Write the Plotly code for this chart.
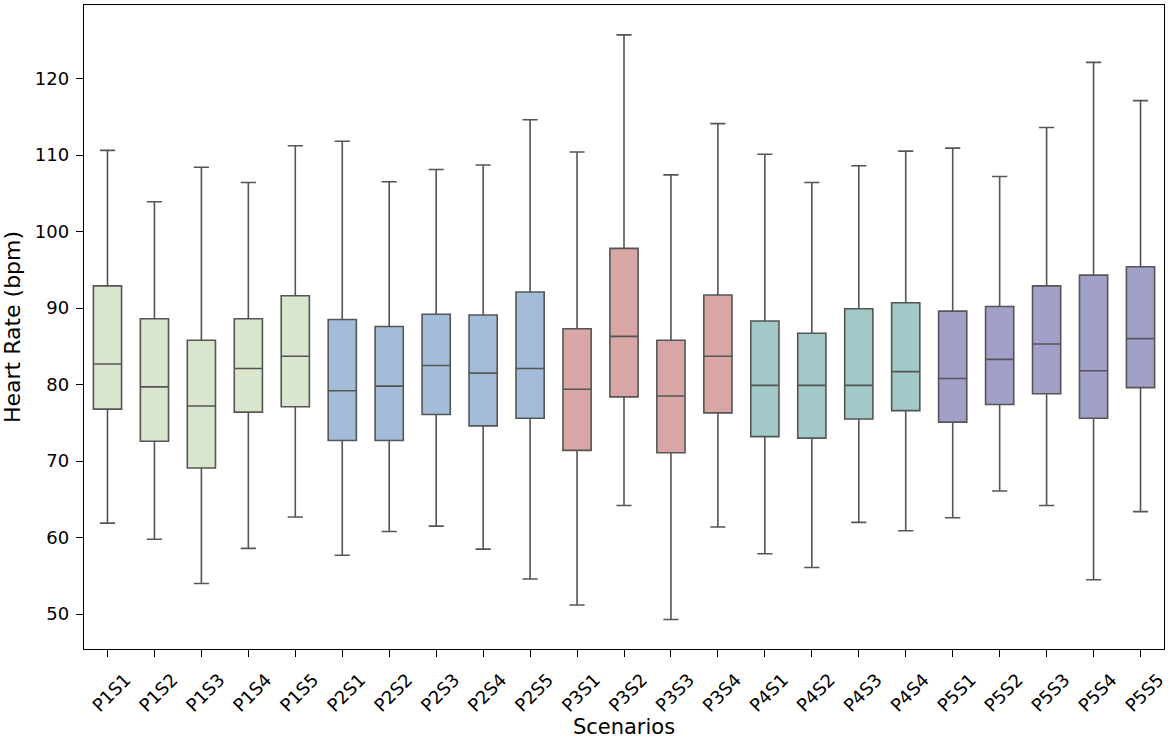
import plotly.graph_objects as go

categories = ["P1S1", "P1S2", "P1S3", "P1S4", "P1S5",
              "P2S1", "P2S2", "P2S3", "P2S4", "P2S5",
              "P3S1", "P3S2", "P3S3", "P3S4",
              "P4S1", "P4S2", "P4S3", "P4S4",
              "P5S1", "P5S2", "P5S3", "P5S4", "P5S5"]
groups = ["P1"] * 5 + ["P2"] * 5 + ["P3"] * 4 + ["P4"] * 4 + ["P5"] * 5

lower_whisker = [61.9, 59.8, 54.0, 58.6, 62.7,
                 57.7, 60.8, 61.5, 58.5, 54.6,
                 51.2, 64.2, 49.3, 61.4,
                 57.9, 56.1, 62.0, 60.9,
                 62.6, 66.1, 64.2, 54.5, 63.4]
q1 = [76.8, 72.6, 69.1, 76.4, 77.1,
      72.7, 72.7, 76.1, 74.6, 75.6,
      71.4, 78.4, 71.1, 76.3,
      73.2, 73.0, 75.5, 76.6,
      75.1, 77.4, 78.8, 75.6, 79.6]
median = [82.7, 79.7, 77.2, 82.1, 83.7,
          79.2, 79.8, 82.5, 81.5, 82.1,
          79.4, 86.3, 78.5, 83.7,
          79.9, 79.9, 79.9, 81.7,
          80.8, 83.3, 85.3, 81.8, 86.0]
q3 = [92.9, 88.6, 85.8, 88.6, 91.6,
      88.5, 87.6, 89.2, 89.1, 92.1,
      87.3, 97.8, 85.8, 91.7,
      88.3, 86.7, 89.9, 90.7,
      89.6, 90.2, 92.9, 94.3, 95.4]
upper_whisker = [110.6, 103.9, 108.4, 106.4, 111.2,
                 111.8, 106.5, 108.1, 108.7, 114.6,
                 110.4, 125.7, 107.4, 114.1,
                 110.1, 106.4, 108.6, 110.5,
                 110.9, 107.2, 113.6, 122.1, 117.1]

group_colors = {"P1": "#d9e5cc", "P2": "#a2bcd9", "P3": "#d8a6a4",
                "P4": "#a1c9c7", "P5": "#a0a0c9"}

fig = go.Figure()
for g in ["P1", "P2", "P3", "P4", "P5"]:
    idx = [i for i, gg in enumerate(groups) if gg == g]
    fig.add_trace(go.Box(
        x=[categories[i] for i in idx],
        q1=[q1[i] for i in idx],
        median=[median[i] for i in idx],
        q3=[q3[i] for i in idx],
        lowerfence=[lower_whisker[i] for i in idx],
        upperfence=[upper_whisker[i] for i in idx],
        fillcolor=group_colors[g],
        line=dict(color="#555555", width=1.6),
        width=0.6,
        whiskerwidth=0.54,
        boxpoints=False,
        showlegend=False,
        hoverinfo="skip",
    ))

tick_font = dict(family="DejaVu Sans", size=18, color="black")
fig.update_layout(
    width=1170, height=739,
    margin=dict(l=84, r=6, t=5, b=90),
    paper_bgcolor="white", plot_bgcolor="white",
    boxmode="overlay",
    font=tick_font,
)
fig.update_xaxes(
    categoryorder="array", categoryarray=categories,
    range=[-0.5, len(categories) - 0.5],
    automargin=False,
    showline=True, linecolor="black", linewidth=1.4, mirror=True,
    ticks="outside", ticklen=7, tickwidth=1.2, tickcolor="black",
    tickangle=-45, ticklabelshift=18, ticklabelstandoff=5,
    ticklabeloverflow="allow",
    tickfont=tick_font, showgrid=False, zeroline=False,
    title=dict(text="Scenarios", font=dict(family="DejaVu Sans", size=21, color="black"), standoff=0),
)
fig.update_yaxes(
    range=[45.45, 129.6],
    tickvals=[50, 60, 70, 80, 90, 100, 110, 120],
    automargin=False,
    showline=True, linecolor="black", linewidth=1.4, mirror=True,
    ticks="outside", ticklen=7, tickwidth=1.2, tickcolor="black",
    ticklabelstandoff=3,
    tickfont=tick_font, showgrid=False, zeroline=False,
    title=dict(text="Heart Rate (bpm)", font=dict(family="DejaVu Sans", size=22, color="black"), standoff=8),
)

fig.write_html("out.html", config={"displayModeBar": False},
               post_script="document.body.style.margin='0px';")
